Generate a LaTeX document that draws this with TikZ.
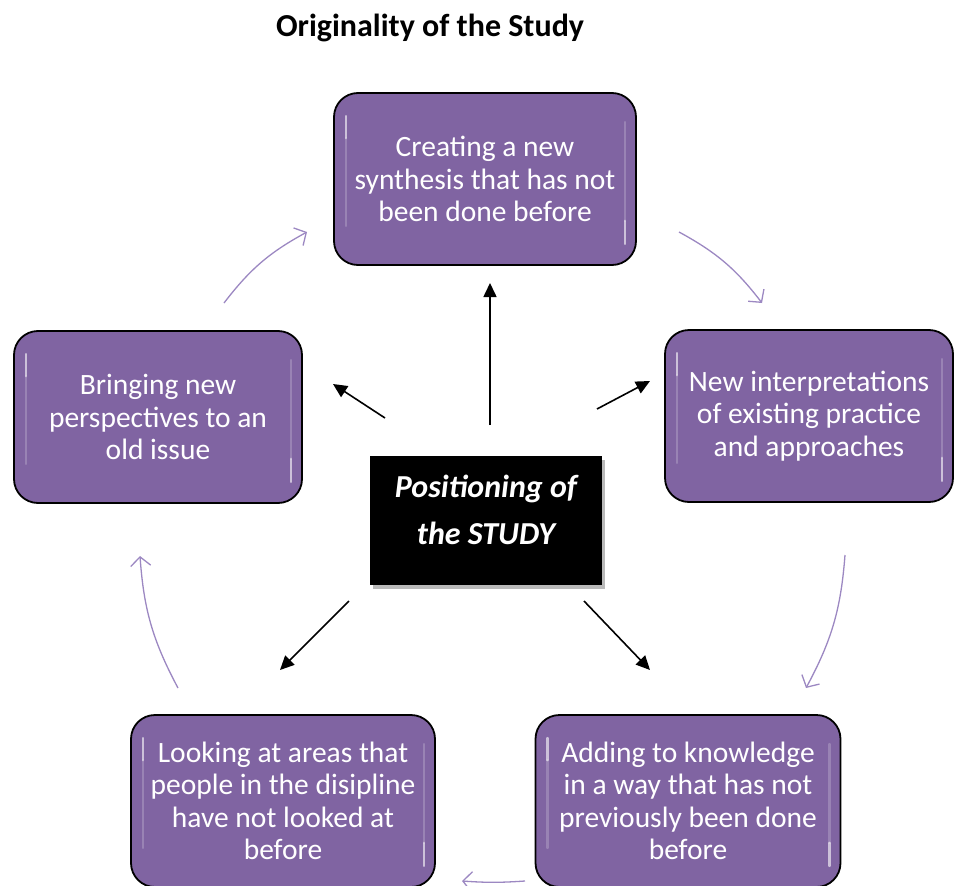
\documentclass[tikz,border=0pt]{standalone}
\usepackage{fontspec}
\setmainfont{Carlito}
\usetikzlibrary{arrows.meta,shadows}

\definecolor{boxpurple}{HTML}{8064A2}
\definecolor{cyclepurple}{HTML}{9C88C2}

\tikzset{
  idea/.style={draw=black, line width=1.8pt, fill=boxpurple, rounded corners=24pt,
    minimum width=302pt, minimum height=172pt, inner sep=0pt, text=white,
    align=center, font=\fontsize{29.5}{32.5}\selectfont},
  core/.style={fill=black, minimum width=232pt, minimum height=129pt, inner sep=0pt,
    drop shadow={shadow xshift=3pt, shadow yshift=-4pt, fill=black!45, opacity=0.6}},
  corelabel/.style={text=white, align=center, font=\fontsize{32}{47}\selectfont\bfseries\itshape},
  spoke/.style={-{Triangle[length=14pt,width=13pt]}, line width=1.6pt, black},
  cyclearrow/.style={-{Straight Barb[length=9pt,width=20pt]}, line width=1.3pt, cyclepurple},
  shine/.style={white, line width=2.6pt, line cap=round},
}

% glossy streaks along the inner left and right edges of a box
\newcommand{\boxshine}[1]{%
  \draw[shine, opacity=0.6] ([xshift=13pt,yshift=-24pt]#1.north west) -- ([xshift=13pt,yshift=-46pt]#1.north west);
  \draw[shine, opacity=0.2] ([xshift=13pt,yshift=-46pt]#1.north west) -- ([xshift=13pt,yshift=40pt]#1.south west);
  \draw[shine, opacity=0.2] ([xshift=-12pt,yshift=-30pt]#1.north east) -- ([xshift=-12pt,yshift=45pt]#1.south east);
  \draw[shine, opacity=0.6] ([xshift=-12pt,yshift=45pt]#1.south east) -- ([xshift=-12pt,yshift=22pt]#1.south east);
}

\begin{document}
\begin{tikzpicture}[x=1pt, y=-1pt]
  \useasboundingbox (0,0) rectangle (954,886);
  \clip (0,0) rectangle (954,886);

  % title
  \node[font=\fontsize{32}{36}\selectfont\bfseries] (title) at (430,28) {Originality of the Study};

  % the five outcome boxes
  \node[idea] (top) at (485,179) {Creating a new\\synthesis that has not\\been done before};
  \node[idea, minimum width=288pt] (right) at (809,416) {New interpretations\\of existing practice\\and approaches};
  \node[idea, minimum width=288pt] (left) at (158,417) {Bringing new\\perspectives to an\\old issue};
  \node[idea, minimum width=304pt] (botleft) at (283,801) {Looking at areas that\\people in the disipline\\have not looked at\\before};
  \node[idea, minimum width=305pt] (botright) at (688,801) {Adding to knowledge\\in a way that has not\\previously been done\\before};

  \boxshine{top}
  \boxshine{right}
  \boxshine{left}
  \boxshine{botleft}
  \boxshine{botright}

  % central box
  \node[core] (core) at (486,520) {};
  \node[corelabel] (coretext) at (486,510) {Positioning of\\the STUDY};

  % spokes from the centre
  \coordinate (s1) at (490,425);  \coordinate (e1) at (490,283);
  \coordinate (s2) at (597,409);  \coordinate (e2) at (650,381);
  \coordinate (s3) at (385,418);  \coordinate (e3) at (333,384);
  \coordinate (s4) at (349,601);  \coordinate (e4) at (280,670);
  \coordinate (s5) at (584,601);  \coordinate (e5) at (650,670);
  \draw[spoke] (s1) -- (e1);
  \draw[spoke] (s2) -- (e2);
  \draw[spoke] (s3) -- (e3);
  \draw[spoke] (s4) -- (e4);
  \draw[spoke] (s5) -- (e5);

  % clockwise cycle between the boxes
  \coordinate (c1s) at (679,232);  \coordinate (c1e) at (762,303);
  \coordinate (c2s) at (845,555);  \coordinate (c2e) at (806,688);
  \coordinate (c3s) at (525,881);  \coordinate (c3e) at (462,881);
  \coordinate (c4s) at (178,688);  \coordinate (c4e) at (140,556);
  \coordinate (c5s) at (224,303);  \coordinate (c5e) at (307,232);
  \draw[cyclearrow] (c1s) to[bend left=12] (c1e);
  \draw[cyclearrow] (c2s) to[bend left=12] (c2e);
  \draw[cyclearrow] (c3s) to[bend left=4] (c3e);
  \draw[cyclearrow] (c4s) to[bend left=12] (c4e);
  \draw[cyclearrow] (c5s) to[bend left=12] (c5e);
\end{tikzpicture}
\end{document}
